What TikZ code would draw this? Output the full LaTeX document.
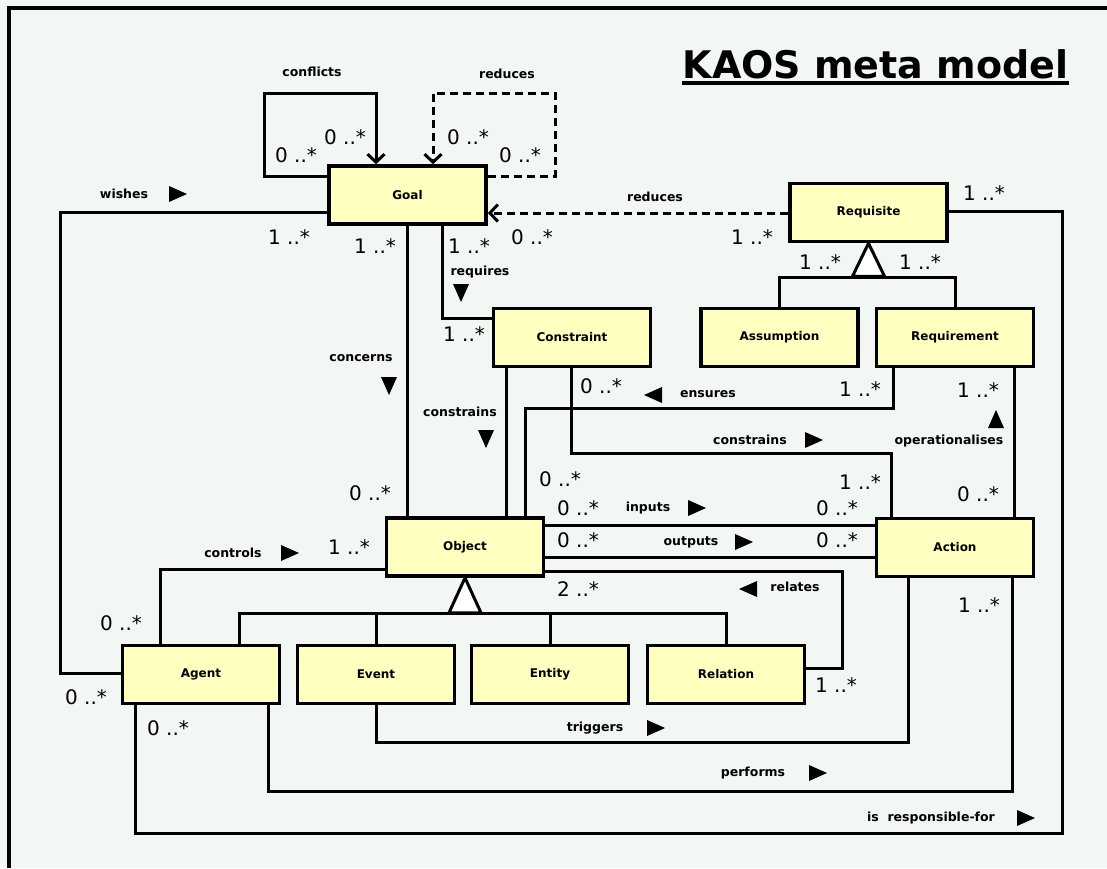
\documentclass[tikz,border=0pt]{standalone}
\usepackage{fontspec}
\setmainfont{DejaVu Sans}
\usetikzlibrary{arrows.meta}
\definecolor{sheet}{RGB}{243,247,243}
\definecolor{boxfill}{RGB}{255,255,192}

\begin{document}
\begin{tikzpicture}[x=1pt, y=-1pt,
  cls/.style={draw, line width=3.6pt, fill=boxfill, minimum width=157pt,
              minimum height=58pt, inner sep=0pt,
              font=\fontsize{12}{14}\selectfont\bfseries},
  link/.style={line width=3pt},
  dashlink/.style={link, dash pattern=on 8pt off 5pt},
  open/.style={-{Straight Barb[length=8pt, width=17pt]}},
  lbl/.style={font=\fontsize{12.5}{14}\selectfont\bfseries, inner sep=0pt},
  mult/.style={font=\fontsize{20}{22}\selectfont, inner sep=0pt},
  dir/.pic={\fill (-8,-8) -- (10,0) -- (-8,8) -- cycle;}]

  % ----- sheet and frame -----
  \useasboundingbox (0,0) rectangle (1107,868);
  \fill[sheet] (0,0) rectangle (1107,868);
  \draw[line width=3.5pt] (9,868) -- (9,8) -- (1107,8);

  % ----- title -----
  \node[font=\fontsize{38}{40}\selectfont\bfseries, inner sep=0pt, anchor=base]
    (title) at (875.5,78) {KAOS meta model};
  \draw[line width=3.2pt] ([yshift=-5pt]title.base west) -- ([yshift=-5pt]title.base east);

  % ----- classes -----
  \node[cls] (goal)        at (407.5,195)   {Goal};
  \node[cls] (requisite)   at (868.5,212.5) {Requisite};
  \node[cls] (constraint)  at (572,337.5)   {Constraint};
  \node[cls] (assumption)  at (779.5,337.5) {Assumption};
  \node[cls] (requirement) at (955,337.5)   {Requirement};
  \node[cls] (object)      at (465,547)     {Object};
  \node[cls] (action)      at (955,547.5)   {Action};
  \node[cls] (agent)       at (201,674.5)   {Agent};
  \node[cls] (event)       at (376,674.5)   {Event};
  \node[cls] (entity)      at (550,674.5)   {Entity};
  \node[cls] (relation)    at (726,674.5)   {Relation};

  % ----- Goal loops -----
  \draw[link, open] (goal.west |- 0,176) -| (264,93) -| (goal.north -| 376,0);
  \draw[dashlink, open] (goal.east |- 0,176) -| (555,93) -| (goal.north -| 433,0);
  \draw[dashlink, open] (requisite.west |- 0,213) -- (goal.east |- 0,213);

  % ----- associations -----
  \draw[link] (goal.west |- 0,212) -| (60,673) -- (agent.west |- 0,673);
  \draw[link] (goal.south -| 407,0) -- (object.north -| 407,0);
  \draw[link] (goal.south -| 442,0) |- (constraint.west |- 0,318);
  \draw[link] (agent.south -| 135,0) |- (1062,833) |- (requisite.east |- 0,211);
  \draw[link] (constraint.south -| 506,0) -- (object.north -| 506,0);
  \draw[link] (requirement.south -| 893,0) |- (525,408) -- (object.north -| 525,0);
  \draw[link] (constraint.south -| 571,0) |- (891,453) -- (action.north -| 891,0);
  \draw[link] (requirement.south -| 1014,0) -- (action.north -| 1014,0);
  \draw[link] (object.east |- 0,525) -- (action.west |- 0,525);
  \draw[link] (object.east |- 0,557) -- (action.west |- 0,557);
  \draw[link] (object.west |- 0,569) -| (agent.north -| 160,0);
  \draw[link] (relation.east |- 0,668) -| (842,571) -- (object.east |- 0,571);
  \draw[link] (event.south) |- (908,742) -- (action.south -| 908,0);
  \draw[link] (agent.south -| 268,0) |- (1012,791) -- (action.south -| 1012,0);

  % ----- generalisations -----
  \coordinate (reqbar) at (868,277);
  \draw[link] (assumption.north) |- (reqbar) -| (requirement.north);
  \draw[link, fill=white] (requisite.south) -- ++(-16,33) -- ++(32,0) -- cycle;

  \coordinate (objbar) at (465,613);
  \draw[link] (agent.north -| 239,0) |- (objbar) -| (relation.north);
  \draw[link] (event.north) -- (event.north |- objbar);
  \draw[link] (entity.north) -- (entity.north |- objbar);
  \draw[link, fill=white] (object.south) -- ++(-16,35) -- ++(32,0) -- cycle;

  % ----- role names -----
  \foreach \x/\y/\t [count=\i] in {312/72/conflicts, 507/74/reduces, 124/194/wishes,
      655/197/reduces, 480/272/requires, 361/358/concerns, 460/412/constrains,
      708/394/ensures, 750/440/constrains, 949/441/operationalises, 648/508/inputs,
      691/542/outputs, 233/553/controls, 795/587/relates, 595/728/triggers,
      753/773/performs, 931/818/is\ \ responsible-for}
    \node[lbl] (l\i) at (\x,\y) {\t};

  % ----- reading direction -----
  \foreach \x/\y/\a in {177/194/0, 289/553/0, 696/508/0, 743/542/0, 813/440/0,
      655/728/0, 817/773/0, 1025/818/0, 654/395/180, 749/589/180,
      461/292/-90, 389/385/-90, 486/438/-90, 996/420/90}
    \pic[rotate=\a] at (\x,\y) {dir};

  % ----- multiplicities -----
  \foreach \x/\y/\n [count=\i] in {296/155/0, 345/137/0, 468/137/0, 520/155/0,
      289/237/1, 375/246/1, 469/246/1, 532/237/0, 752/237/1, 984/193/1,
      820/262/1, 920/262/1, 464/334/1, 601/386/0, 860/389/1, 978/390/1,
      370/493/0, 560/479/0, 860/482/1, 978/494/0, 578/508/0, 837/508/0,
      578/540/0, 837/540/0, 349/547/1, 578/589/2, 836/685/1, 979/605/1,
      121/623/0, 86/697/0, 168/728/0}
    \node[mult] (m\i) at (\x,\y) {\n\ ..*};

\end{tikzpicture}
\end{document}
